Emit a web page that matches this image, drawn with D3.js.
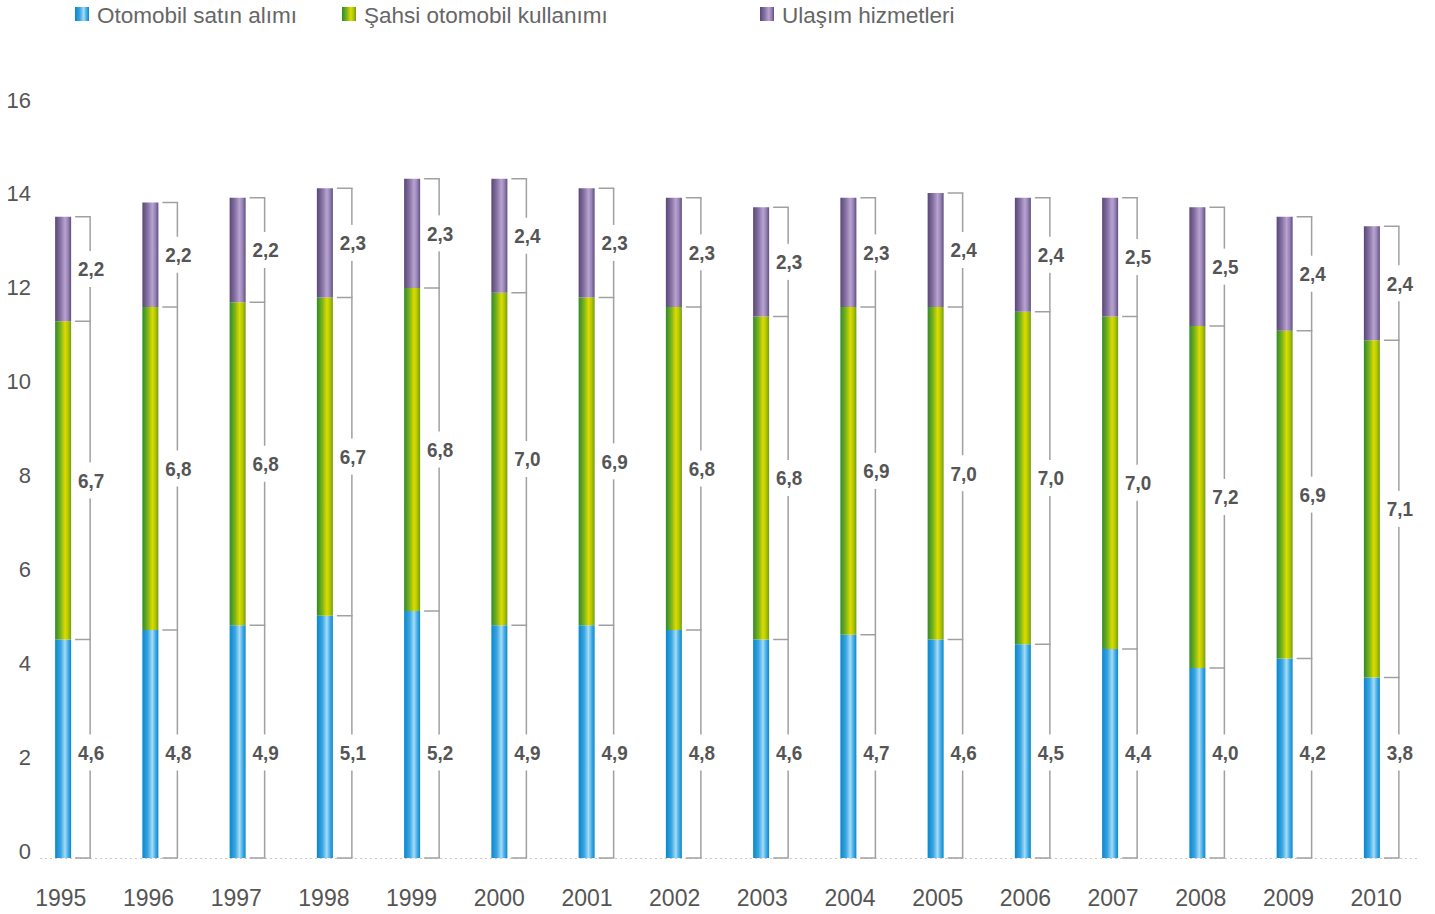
<!DOCTYPE html>
<html>
<head>
<meta charset="utf-8">
<script src="https://cdn.jsdelivr.net/npm/d3@7"></script>
<style>
  html, body { margin: 0; padding: 0; background: #fff; }
  svg { display: block; }
</style>
</head>
<body>
<svg id="chart" width="1435" height="914"></svg>
<script>
// Ulaşım harcamaları, bileşenlerine göre (1995–2010)
const years = ["1995","1996","1997","1998","1999","2000","2001","2002","2003","2004","2005","2006","2007","2008","2009","2010"];
const otomobilSatinAlimi = [4.6, 4.8, 4.9, 5.1, 5.2, 4.9, 4.9, 4.8, 4.6, 4.7, 4.6, 4.5, 4.4, 4.0, 4.2, 3.8];
const sahsiKullanim      = [6.7, 6.8, 6.8, 6.7, 6.8, 7.0, 6.9, 6.8, 6.8, 6.9, 7.0, 7.0, 7.0, 7.2, 6.9, 7.1];
const ulasimHizmetleri   = [2.2, 2.2, 2.2, 2.3, 2.3, 2.4, 2.3, 2.3, 2.3, 2.3, 2.4, 2.4, 2.5, 2.5, 2.4, 2.4];
const yTicks = [0, 2, 4, 6, 8, 10, 12, 14, 16];
const seriesNames = ["Otomobil satın alımı", "Şahsi otomobil kullanımı", "Ulaşım hizmetleri"];

const svg = d3.select("#chart");
const defs = svg.append("defs");

// horizontal cylinder-like gradients for each series
const gradients = [
  { id: "gBlue",   stops: [["0%", "#0a86cc"], ["35%", "#3aa6e2"], ["62%", "#a6dcf6"], ["80%", "#4ab0e8"], ["100%", "#0a86cc"]] },
  { id: "gGreen",  stops: [["0%", "#2f8a2c"], ["35%", "#7fb51a"], ["62%", "#dcdc00"], ["80%", "#b8c800"], ["100%", "#6e9e14"]] },
  { id: "gPurple", stops: [["0%", "#574776"], ["35%", "#8874a6"], ["62%", "#b9a3d0"], ["80%", "#9a86b8"], ["100%", "#5e4e7e"]] }
];
gradients.forEach(g => {
  const lg = defs.append("linearGradient").attr("id", g.id)
    .attr("x1", "0%").attr("x2", "100%").attr("y1", "0%").attr("y2", "0%");
  g.stops.forEach(s => lg.append("stop").attr("offset", s[0]).attr("stop-color", s[1]));
});
const fills = ["url(#gBlue)", "url(#gGreen)", "url(#gPurple)"];

// scales
const x = d3.scaleBand().domain(years).range([19.5, 1415.5]).padding(0);
const xLab = d3.scaleBand().domain(years).range([17, 1420]).padding(0);
const y = d3.scaleLinear().domain([0, 16]).range([858, 98]);
// axis label placement
const yLab = d3.scaleLinear().domain([0, 16]).range([851, 100]);

const barW = 16;
const bracketOff = 27;

// stacked data
const rows = years.map((yr, i) => ({
  year: yr,
  a: otomobilSatinAlimi[i],
  b: sahsiKullanim[i],
  c: ulasimHizmetleri[i]
}));
const stack = d3.stack().keys(["a", "b", "c"])(rows);

// y axis labels
const tickFont = "'Liberation Sans', Arial, sans-serif";
svg.append("g").selectAll("text").data(yTicks).join("text")
  .attr("x", 31).attr("y", d => yLab(d))
  .attr("text-anchor", "end").attr("dominant-baseline", "central")
  .attr("font-family", tickFont).attr("font-size", 22)
  .attr("fill", "#555").text(d => d);

// baseline (dotted)
svg.append("line")
  .attr("x1", 40).attr("x2", 1420).attr("y1", y(0) + 0.5).attr("y2", y(0) + 0.5)
  .attr("stroke", "#c8c8c8").attr("stroke-width", 1).attr("stroke-dasharray", "2,3");

// bars
const layers = svg.append("g").selectAll("g").data(stack).join("g")
  .attr("fill", (d, i) => fills[i]);
layers.selectAll("rect").data(d => d).join("rect")
  .attr("x", d => x(d.data.year) + x.bandwidth() / 2 - barW / 2)
  .attr("width", barW)
  .attr("y", d => y(d[1]))
  .attr("height", d => y(d[0]) - y(d[1]));

// brackets with value labels
const labelFont = "'Liberation Sans', Arial, sans-serif";
const brackets = svg.append("g");
rows.forEach((r, i) => {
  const cx = x(r.year) + x.bandwidth() / 2;
  const lx = cx + bracketOff;
  const tx0 = cx + barW / 2 + 4;
  const bounds = [0, r.a, r.a + r.b, r.a + r.b + r.c];
  const g = brackets.append("g");
  // vertical line
  g.append("line").attr("x1", lx).attr("x2", lx)
    .attr("y1", y(bounds[0])).attr("y2", y(bounds[3]))
    .attr("stroke", "#a0a0a0").attr("stroke-width", 1.5);
  // horizontal ticks
  bounds.forEach(b => {
    g.append("line").attr("x1", tx0).attr("x2", lx + 0.75)
      .attr("y1", y(b)).attr("y2", y(b))
      .attr("stroke", "#a0a0a0").attr("stroke-width", 1.5);
  });
  // labels
  const vals = [r.a, r.b, r.c];
  vals.forEach((v, k) => {
    const ly = k === 0 ? y(2.2) - 1 : (y(bounds[k]) + y(bounds[k + 1])) / 2;
    g.append("rect").attr("x", lx - 15).attr("y", ly - 18)
      .attr("width", 30).attr("height", 36).attr("fill", "#fff");
    g.append("text")
      .attr("transform", `translate(${lx + 1},${ly}) scale(0.9,1)`)
      .attr("text-anchor", "middle").attr("dominant-baseline", "central")
      .attr("font-family", labelFont).attr("font-weight", "bold")
      .attr("font-size", 21).attr("fill", "#555")
      .text(d3.format(".1f")(v).replace(".", ","));
  });
});

// year labels
svg.append("g").selectAll("text").data(years).join("text")
  .attr("x", d => xLab(d) + xLab.bandwidth() / 2)
  .attr("y", 898)
  .attr("text-anchor", "middle").attr("dominant-baseline", "central")
  .attr("font-family", tickFont).attr("font-size", 23)
  .attr("fill", "#555").text(d => d);

// legend
const legendX = [75, 342, 760];
const legend = svg.append("g");
seriesNames.forEach((n, i) => {
  legend.append("rect").attr("x", legendX[i]).attr("y", 7)
    .attr("width", 14).attr("height", 14).attr("fill", fills[i]);
  legend.append("text").attr("x", legendX[i] + 22).attr("y", 15)
    .attr("dominant-baseline", "central")
    .attr("font-family", tickFont).attr("font-size", 22.5)
    .attr("fill", "#666").text(n);
});
</script>
</body>
</html>
